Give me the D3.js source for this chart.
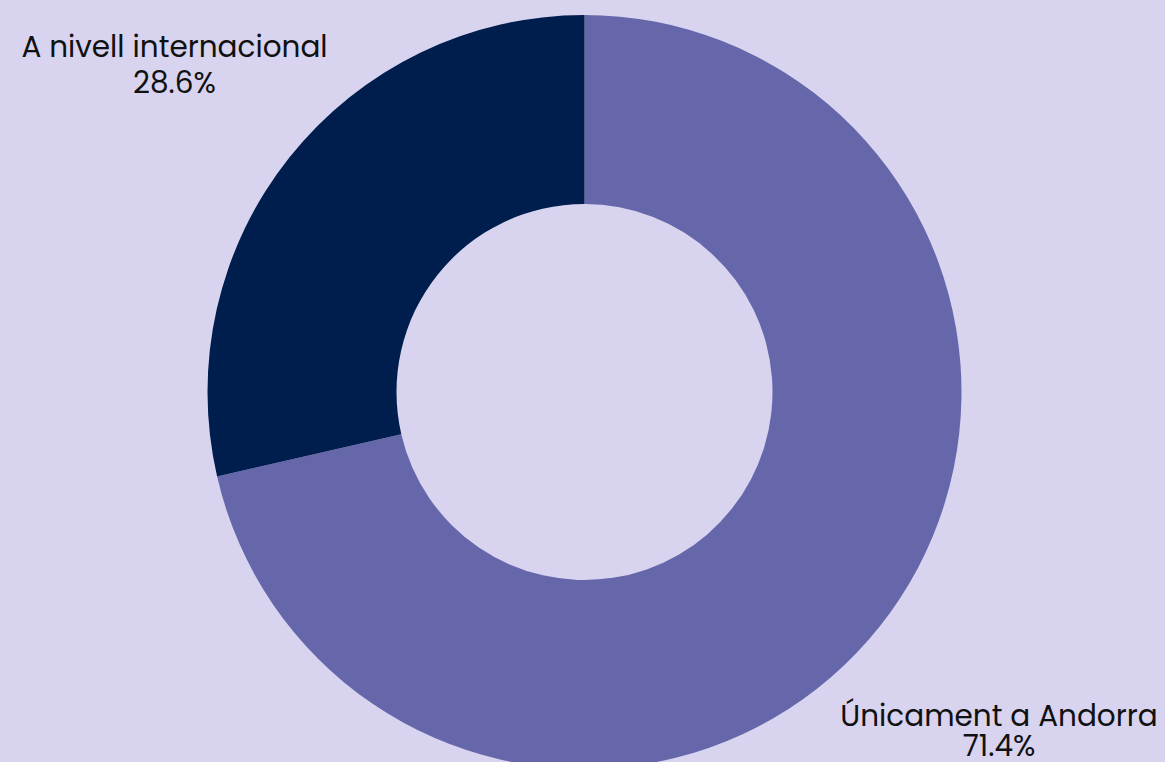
<!DOCTYPE html>
<html><head><meta charset="utf-8">
<script src="https://cdn.jsdelivr.net/npm/d3@7"></script>
<style>html,body{margin:0;padding:0;background:#d8d4f0;}svg{display:block;}</style>
</head><body>
<svg id="c" width="1165" height="762"></svg>
<script>
const categories = ["Únicament a Andorra", "A nivell internacional"];
const values = [71.4, 28.6];
const colors = ["#6667ab", "#001e4d"];

const W = 1165, H = 762;
const cx = 584.5, cy = 392, R = 377, r = 188;
const svg = d3.select("#c");
svg.append("rect").attr("width", W).attr("height", H).attr("fill", "#d8d4f0");
const g = svg.append("g").attr("transform", `translate(${cx},${cy})`);
const pie = d3.pie().sort(null).value(d => d.v);
const arcs = pie(categories.map((c, i) => ({c, v: values[i], col: colors[i]})));
const arc = d3.arc().innerRadius(r).outerRadius(R);
g.selectAll("path").data(arcs).enter().append("path")
  .attr("d", arc).attr("fill", d => d.data.col);

const labelPos = [[999 - cx, 726 - cy, 30], [174.5 - cx, 57 - cy, 36]];
const fmt = d3.format(".1f");
arcs.forEach((d, i) => {
  const t = g.append("text").attr("text-anchor", "middle")
    .attr("font-family", "Poppins, 'Open Sans', sans-serif").attr("font-size", 29.5)
    .attr("fill", "#111");
  t.append("tspan").attr("x", labelPos[i][0]).attr("y", labelPos[i][1]).text(d.data.c);
  t.append("tspan").attr("x", labelPos[i][0]).attr("y", labelPos[i][1] + labelPos[i][2]).text(fmt(d.data.v) + "%");
});
</script>
</body></html>
